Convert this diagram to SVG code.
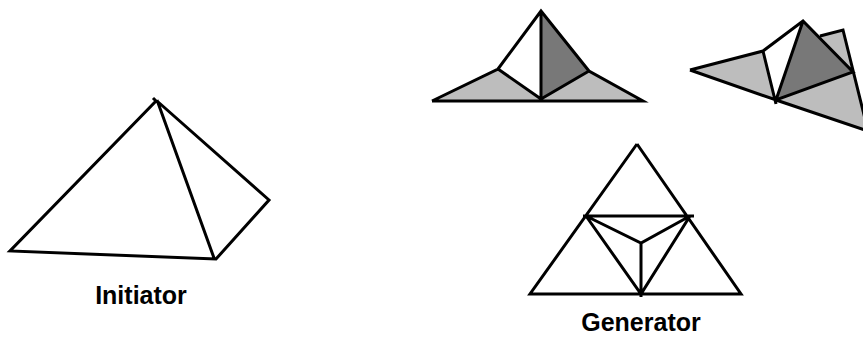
<svg xmlns="http://www.w3.org/2000/svg" width="863" height="338" viewBox="0 0 863 338">
<style>
.l{fill:none;stroke:#000;stroke-width:3;stroke-linejoin:miter;stroke-linecap:butt}
.t{font-family:"Liberation Sans",Arial,sans-serif;font-weight:700;font-size:25px;fill:#000;text-anchor:middle}
.g{fill:#bdbdbd}.d{fill:#787878}
</style>
<rect width="863" height="338" fill="#fff"/>
<g id="initiator">
<path class="l" d="M153 98L156 101L10 251L216 259L269 200L157 101M157 100L214 258"/>
<text class="t" x="141" y="304">Initiator</text>
</g>
<g id="fold-flat">
<path class="g" d="M432 101L498 69L541 99L589 71L643 101Z"/>
<path class="d" d="M541 11L589 71L541 99Z"/>
<path class="l" d="M432 101H643L589 71L541 11L498 69L432 101M498 69L541 99M541 11V101M541 99L589 71"/>
</g>
<g id="fold-rotated">
<path class="g" d="M690 70L763 51L776 100Z"/>
<path class="g" d="M820 36L843 30L868 131L776 100L853 72Z"/>
<path class="d" d="M803 21L853 72L776 100Z"/>
<path class="l" d="M690 70L763 51L803 21L853 72L776 100L690 70M763 51L776 104M776 100L803 21M820 36L843 30L868 131L776 100"/>
</g>
<g id="generator">
<path class="l" d="M637 144L530 294H741L637 144M583 216H694M586 216L641 294L690 216M586 216L641 243L690 216M641 243V297"/>
<text class="t" x="641" y="331">Generator</text>
</g>
</svg>
